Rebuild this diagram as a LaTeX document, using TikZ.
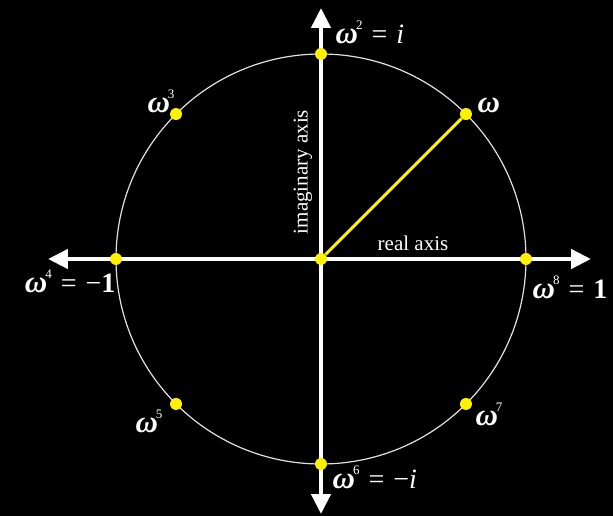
\documentclass[tikz,border=0pt]{standalone}
\usepackage{fontspec}
\setmainfont{Liberation Serif}
\usetikzlibrary{arrows.meta,positioning}
\definecolor{rootyellow}{RGB}{255,242,0}
\definecolor{rimgray}{RGB}{225,225,225}
\newcommand{\upow}[1]{\kern-2pt\raisebox{14pt}{\fontsize{13}{13}\selectfont #1}}
\newcommand{\om}{{\fontsize{31}{31}\selectfont\bfseries\itshape ω}}
\newcommand{\eqs}{\hskip9pt=\hskip9pt}

\begin{document}
\begin{tikzpicture}[
x=1pt,y=1pt,
node distance=4pt,
dot/.style={circle,fill=rootyellow,minimum size=12pt,inner sep=0pt},
lbl/.style={text=white,inner sep=0pt,font=\fontsize{28}{30}\selectfont},
axlbl/.style={text=white,inner sep=0pt,font=\fontsize{21}{23}\selectfont},
axis/.style={white,line width=4.5pt,{Triangle[length=20pt,width=19pt]}-{Triangle[length=20pt,width=19pt]}},
rim/.style={rimgray,line width=1.2pt},
spoke/.style={rootyellow,line width=3pt}
]
\fill[black] (-321,-257) rectangle (292,259);
\useasboundingbox (-321,-257) rectangle (292,259);
\coordinate (o) at (0,0);
\coordinate (xl) at (-273,0);
\coordinate (xr) at (270,0);
\coordinate (yb) at (0,-255);
\coordinate (yt) at (0,251);
\draw[rim] (o) circle[radius=205];
\draw[axis] (xl) -- (xr);
\draw[axis] (yb) -- (yt);
\node[dot] (c) at (o) {};
\foreach \k in {0,...,7}
  \node[dot] (w\k) at (\k*45:205) {};
\draw[spoke] (c) -- (w1);
\node[lbl, below right=12pt and 2pt of w0] (l0) {\om\upow{8}\eqs\textbf{1}};
\node[lbl, above right=-3pt and 7pt of w1] (l1) {\om};
\node[lbl, above right=6pt and 10pt of w2] (l2) {\om\upow{2}\eqs\textit{i}};
\node[lbl, above left=-3pt and -3pt of w3] (l3) {\om\upow{3}};
\node[lbl, below left=6pt and -4pt of w4] (l4) {\om\upow{4}\eqs−\textbf{1}};
\node[lbl, below left=1pt and 9pt of w5] (l5) {\om\upow{5}};
\node[lbl, below right=-3pt and 7pt of w6] (l6) {\om\upow{6}\eqs−\textit{i}};
\node[lbl, below right=-6pt and 5pt of w7] (l7) {\om\upow{7}};
\node[axlbl, rotate=90] (ia) at (-18,87) {imaginary axis};
\node[axlbl] (ra) at (92,16) {real axis};
\end{tikzpicture}
\end{document}
